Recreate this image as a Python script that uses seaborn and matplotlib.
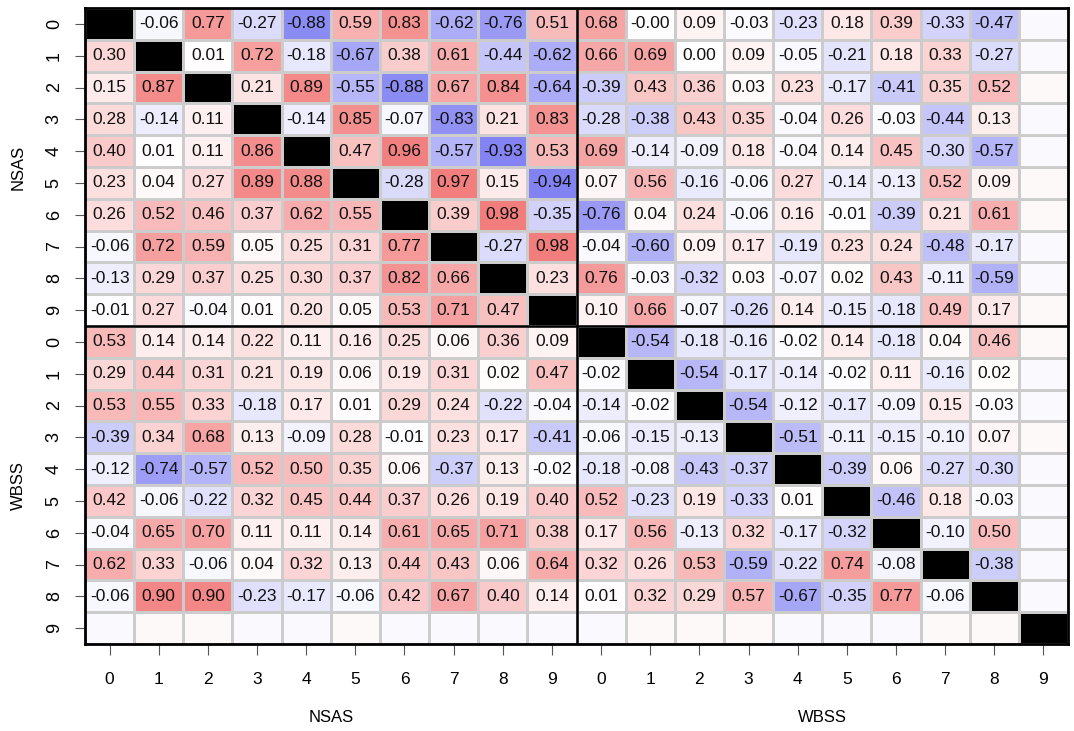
import numpy as np
import pandas as pd
import seaborn as sns
import matplotlib
matplotlib.use("Agg")
import matplotlib.pyplot as plt
from matplotlib.colors import LinearSegmentedColormap

tick_labels = [str(i) for i in range(10)] * 2
group_names = ["NSAS", "WBSS"]

nan = np.nan
# rows 0-18 of the matrix (first 19 columns); diagonal = NaN (drawn black)
rows = [
    [nan, -0.06, 0.77, -0.27, -0.88, 0.59, 0.83, -0.62, -0.76, 0.51, 0.68, -0.00, 0.09, -0.03, -0.23, 0.18, 0.39, -0.33, -0.47],
    [0.30, nan, 0.01, 0.72, -0.18, -0.67, 0.38, 0.61, -0.44, -0.62, 0.66, 0.69, 0.00, 0.09, -0.05, -0.21, 0.18, 0.33, -0.27],
    [0.15, 0.87, nan, 0.21, 0.89, -0.55, -0.88, 0.67, 0.84, -0.64, -0.39, 0.43, 0.36, 0.03, 0.23, -0.17, -0.41, 0.35, 0.52],
    [0.28, -0.14, 0.11, nan, -0.14, 0.85, -0.07, -0.83, 0.21, 0.83, -0.28, -0.38, 0.43, 0.35, -0.04, 0.26, -0.03, -0.44, 0.13],
    [0.40, 0.01, 0.11, 0.86, nan, 0.47, 0.96, -0.57, -0.93, 0.53, 0.69, -0.14, -0.09, 0.18, -0.04, 0.14, 0.45, -0.30, -0.57],
    [0.23, 0.04, 0.27, 0.89, 0.88, nan, -0.28, 0.97, 0.15, -0.94, 0.07, 0.56, -0.16, -0.06, 0.27, -0.14, -0.13, 0.52, 0.09],
    [0.26, 0.52, 0.46, 0.37, 0.62, 0.55, nan, 0.39, 0.98, -0.35, -0.76, 0.04, 0.24, -0.06, 0.16, -0.01, -0.39, 0.21, 0.61],
    [-0.06, 0.72, 0.59, 0.05, 0.25, 0.31, 0.77, nan, -0.27, 0.98, -0.04, -0.60, 0.09, 0.17, -0.19, 0.23, 0.24, -0.48, -0.17],
    [-0.13, 0.29, 0.37, 0.25, 0.30, 0.37, 0.82, 0.66, nan, 0.23, 0.76, -0.03, -0.32, 0.03, -0.07, 0.02, 0.43, -0.11, -0.59],
    [-0.01, 0.27, -0.04, 0.01, 0.20, 0.05, 0.53, 0.71, 0.47, nan, 0.10, 0.66, -0.07, -0.26, 0.14, -0.15, -0.18, 0.49, 0.17],
    [0.53, 0.14, 0.14, 0.22, 0.11, 0.16, 0.25, 0.06, 0.36, 0.09, nan, -0.54, -0.18, -0.16, -0.02, 0.14, -0.18, 0.04, 0.46],
    [0.29, 0.44, 0.31, 0.21, 0.19, 0.06, 0.19, 0.31, 0.02, 0.47, -0.02, nan, -0.54, -0.17, -0.14, -0.02, 0.11, -0.16, 0.02],
    [0.53, 0.55, 0.33, -0.18, 0.17, 0.01, 0.29, 0.24, -0.22, -0.04, -0.14, -0.02, nan, -0.54, -0.12, -0.17, -0.09, 0.15, -0.03],
    [-0.39, 0.34, 0.68, 0.13, -0.09, 0.28, -0.01, 0.23, 0.17, -0.41, -0.06, -0.15, -0.13, nan, -0.51, -0.11, -0.15, -0.10, 0.07],
    [-0.12, -0.74, -0.57, 0.52, 0.50, 0.35, 0.06, -0.37, 0.13, -0.02, -0.18, -0.08, -0.43, -0.37, nan, -0.39, 0.06, -0.27, -0.30],
    [0.42, -0.06, -0.22, 0.32, 0.45, 0.44, 0.37, 0.26, 0.19, 0.40, 0.52, -0.23, 0.19, -0.33, 0.01, nan, -0.46, 0.18, -0.03],
    [-0.04, 0.65, 0.70, 0.11, 0.11, 0.14, 0.61, 0.65, 0.71, 0.38, 0.17, 0.56, -0.13, 0.32, -0.17, -0.32, nan, -0.10, 0.50],
    [0.62, 0.33, -0.06, 0.04, 0.32, 0.13, 0.44, 0.43, 0.06, 0.64, 0.32, 0.26, 0.53, -0.59, -0.22, 0.74, -0.08, nan, -0.38],
    [-0.06, 0.90, 0.90, -0.23, -0.17, -0.06, 0.42, 0.67, 0.40, 0.14, 0.01, 0.32, 0.29, 0.57, -0.67, -0.35, 0.77, -0.06, nan],
]
# WBSS 9: faint, unlabeled values (last column rows 0-18, last row cols 0-18)
wbss9_col = [-0.04, -0.04, 0.04, -0.04, -0.04, 0.04, 0.04, -0.04, -0.04, 0.04,
             0.04, -0.04, -0.04, 0.04, -0.04, -0.04, -0.04, -0.04, -0.04]
wbss9_row = [-0.04, 0.04, 0.04, -0.04, -0.04, 0.04, -0.04, -0.04, -0.04, -0.04,
             -0.04, 0.04, 0.04, 0.04, -0.04, -0.04, -0.04, 0.04, 0.04]

n = 20
mat = np.full((n, n), np.nan)
mat[:19, :19] = np.array(rows)
mat[:19, 19] = wbss9_col
mat[19, :19] = wbss9_row

labels = np.empty((n, n), dtype=object)
for i in range(n):
    for j in range(n):
        v = mat[i, j]
        if i == 19 or j == 19 or np.isnan(v):
            labels[i, j] = ""
        else:
            labels[i, j] = f"{v:.2f}"

mask = np.isnan(mat)
df = pd.DataFrame(mat)

cmap = LinearSegmentedColormap.from_list("bwr_soft", ["#7b7bf2", "#ffffff", "#f27b7b"])
lib = ["Liberation Sans", "DejaVu Sans"]

fig = plt.figure(figsize=(10.74, 7.31), dpi=100)
ax = fig.add_axes([85 / 1074, 1 - 644 / 731, (1068 - 85) / 1074, (644 - 8) / 731])
ax.set_facecolor("black")
sns.heatmap(df, ax=ax, mask=mask, cmap=cmap, vmin=-1, vmax=1, cbar=False,
            annot=labels, fmt="", linewidths=0.8, linecolor="#cccccc",
            annot_kws={"fontsize": 12.5, "family": lib, "color": "#111111"})

ax.axhline(10, color="black", lw=1.8)
ax.axvline(10, color="black", lw=1.8)
for s in ax.spines.values():
    s.set_visible(True)
    s.set_color("black")
    s.set_linewidth(2)

ax.set_xticks(np.arange(n) + 0.5)
ax.set_xticklabels(tick_labels, family=lib, fontsize=12.5)
ax.set_yticks(np.arange(n) + 0.5)
ax.set_yticklabels(tick_labels, family=lib, fontsize=13, rotation=90, va="center")
ax.tick_params(axis="x", length=8, width=0.8, color="#555555", pad=12, bottom=True)
ax.tick_params(axis="y", length=7, width=0.8, color="#555555", pad=9, left=True)
ax.set_xlabel("")
ax.set_ylabel("")

for k, xc in enumerate([331, 822]):
    fig.text(xc / 1074, 1 - 718 / 731, group_names[k], ha="center", va="center",
             fontsize=12, family=lib)
for k, yc in enumerate([167, 486]):
    fig.text(18 / 1074, 1 - yc / 731, group_names[k], ha="center", va="center",
             fontsize=12, rotation=90, family=lib)

fig.savefig("out.png", dpi=100, facecolor="white")
